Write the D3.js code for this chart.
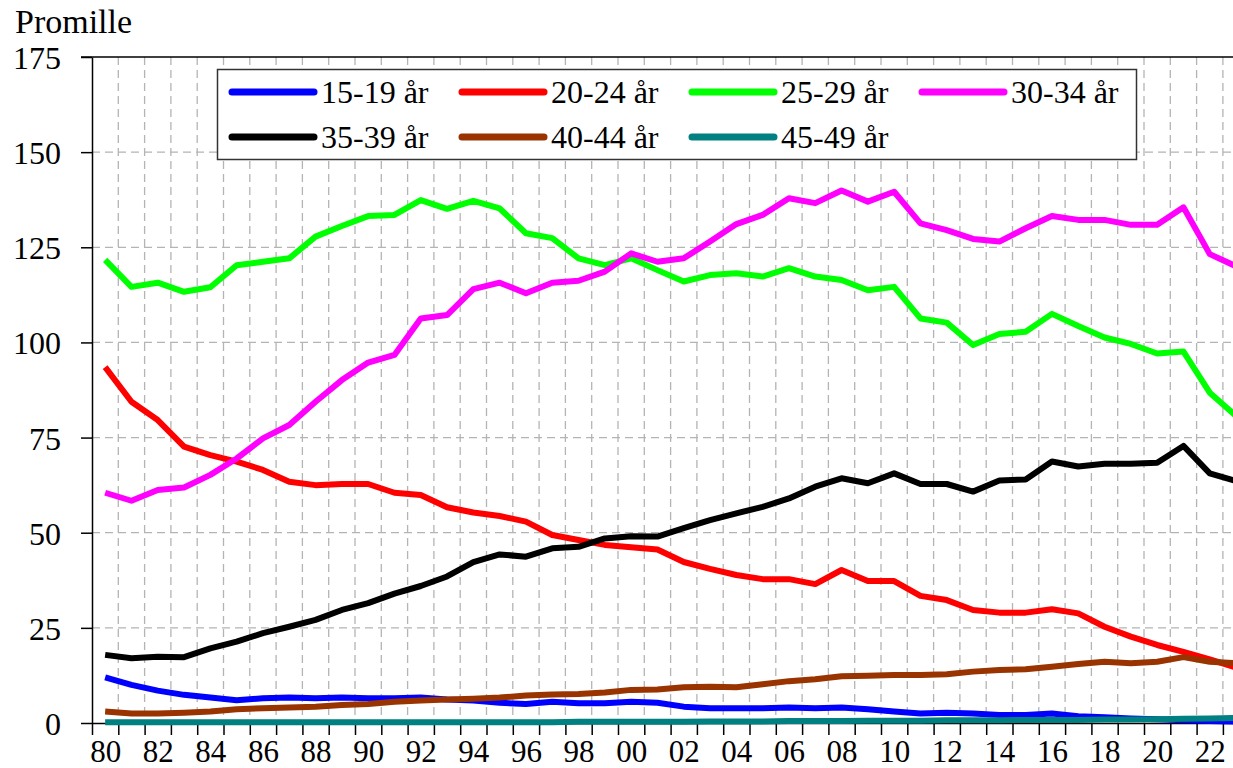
<!DOCTYPE html>
<html>
<head>
<meta charset="utf-8">
<script src="https://cdn.jsdelivr.net/npm/d3@7"></script>
<style>
  body { margin: 0; background: #fff; }
  svg { display: block; }
  svg text { font-family: "Liberation Serif", "DejaVu Serif", serif; fill: #000; }
  .grid line { stroke: #b4b4b4; stroke-width: 1.3; stroke-dasharray: 8 5; }
  .axis path, .axis line { stroke: #000; stroke-width: 1.5; }
  .axis text { font-size: 32px; }
</style>
</head>
<body>
<svg id="chart" width="1233" height="768"></svg>
<script>
// years 1980..2023
const years = d3.range(1980, 2024);
const yTicks = [0, 25, 50, 75, 100, 125, 150, 175];

const labels = ['15-19 år', '20-24 år', '25-29 år', '30-34 år', '35-39 år', '40-44 år', '45-49 år'];
const colors = ['#0000ff', '#ff0000', '#00ff00', '#ff00ff', '#000000', '#993300', '#008080'];

const age1519 = [12.0,10.0,8.5,7.4,6.7,6.0,6.5,6.7,6.5,6.7,
  6.5,6.5,6.7,6.2,5.9,5.3,5.0,5.6,5.2,5.2,
  5.6,5.3,4.3,3.9,3.9,3.9,4.1,3.9,4.1,3.6,
  3.0,2.5,2.7,2.5,2.1,2.1,2.5,1.8,1.5,1.2,
  1.0,0.7,0.5,0.4];
const age2024 = [93.5,84.4,79.6,72.6,70.4,68.7,66.5,63.4,62.5,62.8,
  62.8,60.5,59.9,56.7,55.3,54.4,52.9,49.4,48.1,46.8,
  46.2,45.6,42.3,40.5,38.9,37.8,37.8,36.5,40.2,37.3,
  37.3,33.4,32.3,29.7,29.0,29.0,29.9,28.8,25.3,22.7,
  20.5,18.7,16.7,14.6];
const age2529 = [121.7,114.6,115.7,113.3,114.5,120.3,121.2,122.1,127.8,130.6,
  133.2,133.5,137.4,135.1,137.2,135.2,128.7,127.4,122.1,120.3,
  122.1,119.0,116.0,117.7,118.2,117.3,119.5,117.3,116.4,113.7,
  114.6,106.3,105.2,99.3,102.2,102.8,107.5,104.3,101.3,99.6,
  97.1,97.6,86.8,80.7];
const age3034 = [60.5,58.4,61.2,61.9,65.2,69.5,74.8,78.3,84.4,90.1,
  94.7,96.7,106.3,107.2,114.0,115.7,112.9,115.7,116.2,118.6,
  123.4,121.2,122.1,126.5,131.1,133.5,137.9,136.6,139.9,137.0,
  139.6,131.3,129.5,127.2,126.5,130.0,133.2,132.2,132.2,130.9,
  130.9,135.5,123.2,120.0];
const age3539 = [17.9,17.0,17.4,17.3,19.6,21.4,23.6,25.3,27.1,29.7,
  31.5,34.0,36.0,38.5,42.3,44.3,43.7,45.9,46.3,48.5,
  49.1,49.0,51.2,53.3,55.1,56.8,59.0,62.1,64.3,63.0,
  65.6,62.8,62.8,60.8,63.7,64.0,68.7,67.4,68.1,68.1,
  68.4,72.8,65.6,63.6];
const age4044 = [3.0,2.5,2.5,2.7,3.0,3.6,3.9,4.1,4.3,4.7,
  5.0,5.6,5.9,6.2,6.4,6.7,7.2,7.5,7.6,8.0,
  8.7,8.8,9.4,9.5,9.4,10.2,11.0,11.5,12.3,12.4,
  12.6,12.6,12.8,13.5,13.9,14.1,14.8,15.5,16.1,15.7,
  16.1,17.3,16.1,15.7];
const age4549 = [0.2,0.2,0.2,0.2,0.2,0.2,0.2,0.2,0.2,0.2,
  0.2,0.2,0.2,0.2,0.2,0.2,0.2,0.2,0.3,0.3,
  0.3,0.3,0.3,0.4,0.4,0.4,0.5,0.5,0.5,0.6,
  0.6,0.6,0.7,0.7,0.7,0.8,0.8,0.8,0.9,0.9,
  1.0,1.1,1.2,1.3];

const series = [age1519, age2024, age2529, age3034, age3539, age4044, age4549];

const svg = d3.select('#chart');
const mLeft = 92, mTop = 57, mBottom = 723, step = 26.3;

// one band per year, points in the middle of the band
const x = d3.scaleLinear().domain([1979.5, 2023.5]).range([mLeft, mLeft + 44 * step]);
const y = d3.scaleLinear().domain([0, 175]).range([mBottom, mTop]);

svg.append('rect').attr('width', 1233).attr('height', 768).attr('fill', '#fff');

//grid
const bounds = d3.range(1980.5, 2024.5, 1);
svg.append('g').attr('class', 'grid')
  .selectAll('line').data(bounds).join('line')
  .attr('x1', d => x(d)).attr('x2', d => x(d))
  .attr('y1', mTop).attr('y2', mBottom);
svg.append('g').attr('class', 'grid')
  .selectAll('line').data(yTicks.filter(v => v > 0 && v < 175)).join('line')
  .attr('x1', mLeft).attr('x2', 1233)
  .attr('y1', d => y(d)).attr('y2', d => y(d));

// top border
svg.append('line')
  .attr('x1', mLeft - 11).attr('x2', 1233)
  .attr('y1', mTop).attr('y2', mTop)
  .attr('stroke', '#000').attr('stroke-width', 1.5);

// y axis
svg.append('g').attr('class', 'axis')
  .attr('transform', `translate(${mLeft},0)`)
  .call(d3.axisLeft(y).tickValues(yTicks).tickSize(11).tickPadding(20).tickSizeOuter(0))
  .call(g => g.selectAll('text').attr('dy', '0.36em'));

// x axis: ticks on year boundaries
svg.append('g').attr('class', 'axis')
  .attr('transform', `translate(0,${mBottom})`)
  .call(d3.axisBottom(x).tickValues(d3.range(1979.5, 2024.5, 1)).tickSize(12).tickSizeOuter(0).tickFormat(''));

// x labels, every 2nd year, centered in band
svg.append('g').attr('class', 'axis xlab')
  .attr('transform', `translate(0,${mBottom})`)
  .call(d3.axisBottom(x).tickValues(years.filter(yr => yr % 2 === 0 && yr <= 2022))
    .tickSize(0).tickPadding(0).tickFormat(d => String(d % 100).padStart(2, '0')))
  .call(g => g.select('.domain').remove())
  .call(g => g.selectAll('text').attr('dy', null).attr('y', 39).style('font-size', '31px'));

svg.append('text')
  .attr('x', 15).attr('y', 33)
  .style('font-size', '34px')
  .text('Promille');

// lines
const line = d3.line().x((d, i) => x(years[i])).y(d => y(d));
svg.append('g')
  .selectAll('path').data(series).join('path')
  .attr('d', line)
  .attr('fill', 'none')
  .attr('stroke', (d, i) => colors[i])
  .attr('stroke-width', 6)
  .attr('stroke-linejoin', 'round');

// legend
const lg = svg.append('g');
lg.append('rect')
  .attr('x', 217.5).attr('y', 69.5).attr('width', 919).attr('height', 90)
  .attr('fill', '#fff').attr('stroke', '#333').attr('stroke-width', 1.5);
const colX = [232, 462, 692, 922];
const rowY = [92, 137];
labels.forEach((lab, i) => {
  const cx = colX[i % 4], cy = rowY[Math.floor(i / 4)];
  lg.append('line')
    .attr('x1', cx).attr('x2', cx + 82)
    .attr('y1', cy).attr('y2', cy)
    .attr('stroke', colors[i]).attr('stroke-width', 7).attr('stroke-linecap', 'round');
  lg.append('text')
    .attr('x', cx + 89).attr('y', cy + 10.5)
    .style('font-size', '32px')
    .text(lab);
});
</script>
</body>
</html>
